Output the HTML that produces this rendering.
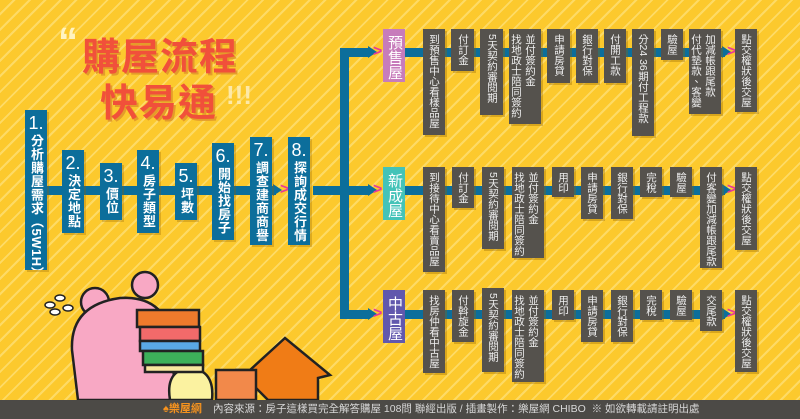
<!DOCTYPE html>
<html><head><meta charset="utf-8"><style>
*{margin:0;padding:0;box-sizing:border-box}
body{width:800px;height:419px;overflow:hidden;position:relative;font-family:"Liberation Sans","Noto Sans CJK TC",sans-serif;
background:#fcc92d repeating-linear-gradient(135deg,rgba(255,255,255,0) 0 9px,rgba(255,240,170,.45) 9px 11px)}
.a{position:absolute}
.ln{position:absolute;background:#0c6e9b}
.g{position:absolute;background:#55524d;color:#eee;writing-mode:vertical-rl;white-space:nowrap;font-size:10.5px;line-height:14px;padding:5px 4px 0 0;box-shadow:2px 2px 0 rgba(150,100,0,.35);letter-spacing:0;overflow:hidden}
.b{position:absolute;background:#0c6e9b;color:#fff;box-shadow:2px 2px 0 rgba(150,100,0,.3);text-align:center;overflow:hidden}
.b i{font-style:normal;font-size:18px;line-height:22px;display:block;margin-top:2px}
.b span{writing-mode:vertical-rl;white-space:nowrap;font-weight:bold;font-size:13px;line-height:22px;display:inline-block;letter-spacing:0.5px}
.h{position:absolute;color:#fff;writing-mode:vertical-rl;white-space:nowrap;font-size:15px;line-height:22px;text-align:center;padding-top:4px}
.ar{position:absolute;width:0;height:0;border-top:6px solid transparent;border-bottom:6px solid transparent;border-left:9px solid #0c6e9b}
.pk{position:absolute;color:#e8399b;font-size:16px;font-weight:bold;line-height:16px}
</style></head><body>
<div class="a" style="left:58px;top:20px;font-size:40px;color:#fff3c0;font-weight:bold">“</div>
<div class="a" style="left:82px;top:26px;font-size:38px;font-weight:bold;color:#f1503a;text-shadow:2px 2px 0 #e49c2a;letter-spacing:1px">購屋流程</div>
<div class="a" style="left:100px;top:72px;font-size:38px;font-weight:bold;color:#f1503a;text-shadow:2px 2px 0 #e49c2a;letter-spacing:1px">快易通</div>
<div class="a" style="left:226px;top:80px;font-size:26px;color:#fde9a8;font-weight:bold">!!!</div>

<div class="ln" style="left:40px;top:186px;width:236px;height:9px"></div>
<div class="ar" style="left:273px;top:184px"></div><div class="pk" style="left:280px;top:182px">&gt;</div>
<div class="ln" style="left:313px;top:186px;width:35px;height:9px"></div>
<div class="ln" style="left:340px;top:48px;width:9px;height:271px"></div>
<div class="ln" style="left:340px;top:48px;width:30px;height:9px"></div>
<div class="ln" style="left:340px;top:186px;width:30px;height:9px"></div>
<div class="ln" style="left:340px;top:310px;width:30px;height:9px"></div>
<div class="ar" style="left:368px;top:46px"></div><div class="pk" style="left:373px;top:44px">&gt;</div>
<div class="ar" style="left:368px;top:184px"></div><div class="pk" style="left:373px;top:182px">&gt;</div>
<div class="ar" style="left:368px;top:308px"></div><div class="pk" style="left:373px;top:306px">&gt;</div>

<div class="b" style="left:25px;top:110px;width:22px;height:160px"><i>1.</i><span>分析購屋需求（5W1H）</span></div>
<div class="b" style="left:62px;top:150px;width:22px;height:83px"><i>2.</i><span>決定地點</span></div>
<div class="b" style="left:100px;top:163px;width:22px;height:57px"><i>3.</i><span>價位</span></div>
<div class="b" style="left:137px;top:150px;width:22px;height:83px"><i>4.</i><span>房子類型</span></div>
<div class="b" style="left:175px;top:163px;width:22px;height:57px"><i>5.</i><span>坪數</span></div>
<div class="b" style="left:212px;top:143px;width:22px;height:97px"><i>6.</i><span>開始找房子</span></div>
<div class="b" style="left:250px;top:137px;width:22px;height:108px"><i>7.</i><span>調查建商商譽</span></div>
<div class="b" style="left:288px;top:137px;width:22px;height:108px"><i>8.</i><span>探詢成交行情</span></div>

<div class="ln" style="left:405px;top:48px;width:320px;height:9px"></div>
<div class="ar" style="left:722px;top:46px"></div><div class="pk" style="left:727px;top:44px">&gt;</div>
<div class="ln" style="left:405px;top:186px;width:320px;height:9px"></div>
<div class="ar" style="left:722px;top:184px"></div><div class="pk" style="left:727px;top:182px">&gt;</div>
<div class="ln" style="left:405px;top:310px;width:320px;height:9px"></div>
<div class="ar" style="left:722px;top:308px"></div><div class="pk" style="left:727px;top:306px">&gt;</div>

<div class="h" style="left:383px;top:29px;width:22px;height:53px;background:#c77cbb">預售屋</div>
<div class="h" style="left:383px;top:167px;width:22px;height:53px;background:#44c3b8">新成屋</div>
<div class="h" style="left:383px;top:290px;width:22px;height:53px;background:#6158ad">中古屋</div>

<div class="g" style="left:423px;top:29px;width:22px;height:106px">到預售中心看樣品屋</div>
<div class="g" style="left:451px;top:29px;width:23px;height:42px">付訂金</div>
<div class="g" style="left:480px;top:29px;width:23px;height:86px">5天契約審閱期</div>
<div class="g" style="left:509px;top:29px;width:32px;height:95px">並付簽約金<br>找地政士陪同簽約</div>
<div class="g" style="left:547px;top:29px;width:23px;height:54px">申請房貸</div>
<div class="g" style="left:576px;top:29px;width:22px;height:54px">銀行對保</div>
<div class="g" style="left:604px;top:29px;width:22px;height:54px">付開工款</div>
<div class="g" style="left:632px;top:29px;width:22px;height:107px">分24 36期付工程款</div>
<div class="g" style="left:661px;top:29px;width:22px;height:31px">驗屋</div>
<div class="g" style="left:689px;top:29px;width:32px;height:85px">加減帳跟尾款<br>付代墊款、客變</div>
<div class="g" style="left:735px;top:29px;width:22px;height:83px">點交權狀後交屋</div>

<div class="g" style="left:423px;top:167px;width:22px;height:105px">到接待中心看賣品屋</div>
<div class="g" style="left:452px;top:167px;width:22px;height:41px">付訂金</div>
<div class="g" style="left:482px;top:167px;width:22px;height:82px">5天契約審閱期</div>
<div class="g" style="left:512px;top:167px;width:32px;height:91px">並付簽約金<br>找地政士陪同簽約</div>
<div class="g" style="left:552px;top:167px;width:22px;height:30px">用印</div>
<div class="g" style="left:581px;top:167px;width:22px;height:52px">申請房貸</div>
<div class="g" style="left:611px;top:167px;width:22px;height:52px">銀行對保</div>
<div class="g" style="left:640px;top:167px;width:22px;height:30px">完稅</div>
<div class="g" style="left:670px;top:167px;width:22px;height:30px">驗屋</div>
<div class="g" style="left:700px;top:167px;width:22px;height:101px">付客變加減帳跟尾款</div>
<div class="g" style="left:735px;top:167px;width:22px;height:83px">點交權狀後交屋</div>

<div class="g" style="left:423px;top:290px;width:22px;height:83px">找房仲看中古屋</div>
<div class="g" style="left:452px;top:290px;width:22px;height:52px">付斡旋金</div>
<div class="g" style="left:482px;top:288px;width:22px;height:84px">5天契約審閱期</div>
<div class="g" style="left:512px;top:290px;width:32px;height:92px">並付簽約金<br>找地政士陪同簽約</div>
<div class="g" style="left:552px;top:290px;width:22px;height:30px">用印</div>
<div class="g" style="left:581px;top:290px;width:22px;height:52px">申請房貸</div>
<div class="g" style="left:611px;top:290px;width:22px;height:52px">銀行對保</div>
<div class="g" style="left:640px;top:290px;width:22px;height:30px">完稅</div>
<div class="g" style="left:670px;top:290px;width:22px;height:30px">驗屋</div>
<div class="g" style="left:700px;top:290px;width:22px;height:41px">交尾款</div>
<div class="g" style="left:735px;top:290px;width:22px;height:82px">點交權狀後交屋</div>

<svg class="a" style="left:0;top:260px" width="340" height="140" viewBox="0 0 340 140">
 <g stroke="#222" stroke-width="2.5">
 <circle cx="95" cy="42" r="14" fill="#f8a8c4"/><circle cx="145" cy="25" r="13" fill="#f8a8c4"/>
 <path d="M78 140 L72 90 Q70 45 120 38 Q165 35 172 80 L175 140Z" fill="#f8a8c4"/>
 <path d="M268 140 L238 110 L250 110 L285 78 L330 115 L318 118 L318 140Z" fill="#f07c16"/>
 <rect x="216" y="110" width="40" height="30" fill="#f2894a"/>
 <path d="M170 140 Q165 110 190 108 Q215 110 212 140Z" fill="#fbf2a0"/>
 <rect x="137" y="50" width="62" height="17" fill="#ee7a2c"/>
 <rect x="140" y="67" width="60" height="14" fill="#f26a6a"/>
 <rect x="140" y="81" width="60" height="10" fill="#5aa9e6"/>
 <rect x="143" y="91" width="60" height="14" fill="#3db05a"/>
 <rect x="145" y="105" width="58" height="7" fill="#f9e79f"/>
 </g>
 <g fill="#fff" stroke="#222" stroke-width="1.5"><ellipse cx="50" cy="45" rx="5" ry="3"/><ellipse cx="60" cy="38" rx="5" ry="3"/><ellipse cx="55" cy="52" rx="5" ry="3"/><ellipse cx="68" cy="48" rx="5" ry="3"/></g>
</svg>

<div class="a" style="left:0;top:400px;width:800px;height:19px;background:#4c4a46;color:#d8d8d8;font-size:10.5px;line-height:19px;white-space:nowrap">
<span style="position:absolute;left:163px;color:#f7931e;font-weight:bold;font-size:11px">♠樂屋網</span>
<span style="position:absolute;left:213px">內容來源：房子這樣買完全解答購屋 108問 聯經出版 / 插畫製作：樂屋網 CHIBO &nbsp;※ 如欲轉載請註明出處</span>
</div>
</body></html>
